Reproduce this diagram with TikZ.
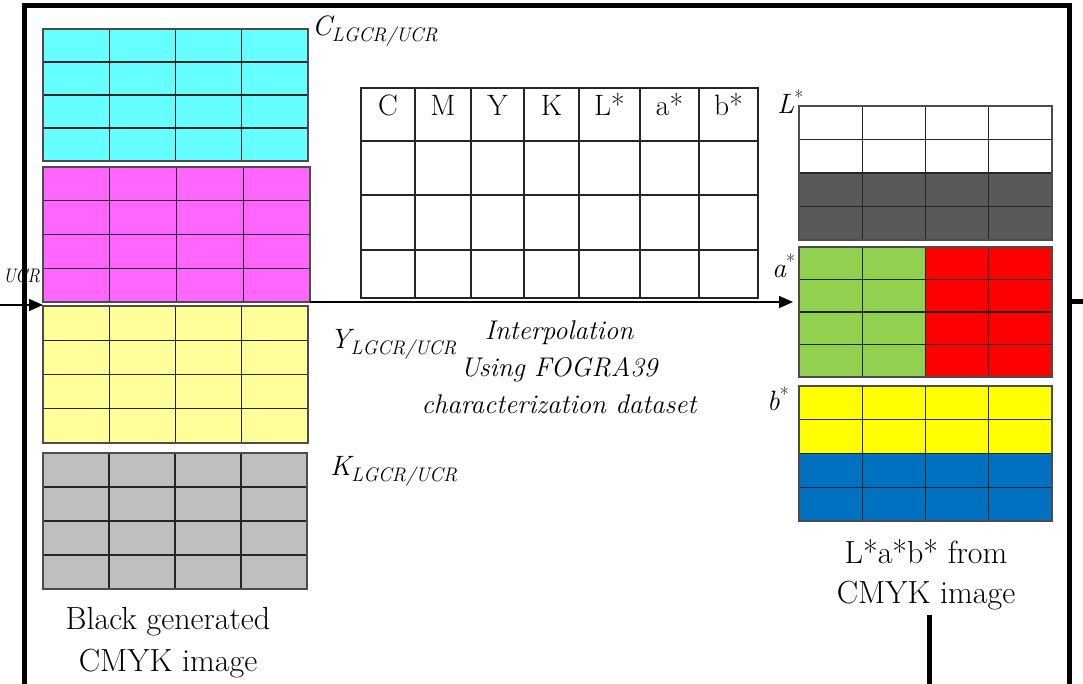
\documentclass[tikz,border=0pt]{standalone}
\usepackage{fontspec}
\usetikzlibrary{arrows.meta,fit}

\definecolor{cyanfill}{HTML}{66FFFF}
\definecolor{magfill}{HTML}{FF66FF}
\definecolor{yelfill}{HTML}{FFFF99}
\definecolor{grayfill}{HTML}{BFBFBF}
\definecolor{darkL}{HTML}{595959}
\definecolor{greenA}{HTML}{92D050}
\definecolor{redA}{HTML}{FF0000}
\definecolor{yelB}{HTML}{FFFF00}
\definecolor{blueB}{HTML}{0070C0}

% italic symbol with a lowered subscript / raised star
\newcommand\subsym[2]{{\itshape #1}\raisebox{-6.5pt}{\fontsize{19.6}{22}\selectfont\itshape #2}}
\newcommand\starsym[1]{{\itshape #1}\raisebox{9pt}{\fontsize{19.6}{22}\selectfont *}}

% 4x4 cell grid: #1 name, (#2,#3) top-left, (#4,#5) bottom-right
\newcommand\cellgrid[5]{%
  \foreach \k in {1,2,3}{
    \draw[gridline] ({#2+\k*(#4-#2)/4},#3) -- ({#2+\k*(#4-#2)/4},#5);
    \draw[gridline] (#2,{#3+\k*(#5-#3)/4}) -- (#4,{#3+\k*(#5-#3)/4});
  }
  \node[gridbox, fit={(#2,#3) (#4,#5)}] (#1) {};
}

\begin{document}
\begin{tikzpicture}[x=1pt,y=-1pt,
  frame/.style={line width=5pt},
  gridline/.style={line width=1.4pt, draw=black!85},
  gridbox/.style={draw=black!70, line width=1.4pt, inner sep=0pt, outer sep=0pt},
  tableline/.style={line width=1.4pt, draw=black!85},
  flow/.style={line width=1.3pt, -{Triangle[length=14pt,width=12pt]}},
  lbl/.style={font=\fontsize{28}{34}\selectfont, inner sep=0pt},
  hdr/.style={font=\fontsize{29.5}{34}\selectfont, inner sep=0pt},
  caption/.style={font=\fontsize{32}{42}\selectfont, align=center, inner sep=0pt},
  note/.style={font=\fontsize{27}{37}\selectfont\itshape, align=center, inner sep=0pt}]
\useasboundingbox (0,0) rectangle (1083,683);

% outer frame and its stubs
\draw[frame] (24.5,690) |- (1069,5) -- (1069,690);
\draw[frame] (1069,301) -- (1090,301);
\draw[frame] (929,615) -- (929,690);

% black generated CMYK planes
\fill[cyanfill] (43,29) rectangle (308,161);
\cellgrid{cgrid}{43}{29}{308}{161}
\fill[magfill] (43,167) rectangle (310,302);
\cellgrid{mgrid}{43}{167}{310}{302}
\fill[yelfill] (43,306) rectangle (308,443);
\cellgrid{ygrid}{43}{306}{308}{443}
\fill[grayfill] (43,453) rectangle (307,589);
\cellgrid{kgrid}{43}{453}{307}{589}

\node[lbl, anchor=base west] (clab) at (312,35) {\subsym{C}{LGCR/UCR}};
\node[lbl, anchor=base west] (ylab) at (330,348) {\subsym{Y}{LGCR/UCR}};
\node[lbl, anchor=base west] (klab) at (330,475) {\subsym{K}{LGCR/UCR}};
\node[lbl, anchor=base east] (inlab) at (40,282)
  {\scalebox{0.88}[1]{\fontsize{19.6}{22}\selectfont\itshape UCR}};

\node[caption, anchor=north] (bcap) at (168,607) {Black generated\\CMYK image};

% characterization table
\foreach \x in {415,471,524,579,640,699}
  \draw[tableline] (\x,88) -- (\x,298);
\foreach \y in {141,195,250}
  \draw[tableline] (361,\y) -- (758,\y);
\node[gridbox, draw=black!85, fit={(361,88) (758,298)}] (tbl) {};
\foreach \x/\t [count=\n] in {388/C, 443/M, 497.5/Y, 551.5/K, 609.5/L*, 669.5/a*, 728.5/b*}
  \node[hdr, anchor=base] (hd\n) at (\x,115) {\t};

\node[note, anchor=north] (interp) at (559,321)
  {Interpolation\\Using FOGRA39\\characterization dataset};

% L*a*b* planes
\fill[white] (799,106) rectangle (1052,173);
\fill[darkL] (799,173) rectangle (1052,240);
\cellgrid{lgrid}{799}{106}{1052}{240}
\fill[greenA] (799,247) rectangle (925.5,377);
\fill[redA] (925.5,247) rectangle (1052,377);
\cellgrid{agrid}{799}{247}{1052}{377}
\fill[yelB] (799,386) rectangle (1052,453.5);
\fill[blueB] (799,453.5) rectangle (1052,521);
\cellgrid{bgrid}{799}{386}{1052}{521}

\node[lbl, anchor=base west] (llab) at (777,113) {\starsym{L}};
\node[lbl, anchor=base west] (alab) at (772,277) {\starsym{a}};
\node[lbl, anchor=base west] (blab) at (767,410) {\starsym{b}};

\node[caption, anchor=north, font=\fontsize{32}{40}\selectfont] (rcap) at (926,539) {L*a*b* from\\CMYK image};

% connectors
\coordinate (entry) at (0,305);
\draw[flow] (entry) -- (entry -| mgrid.west);
\draw[flow, shorten >=6pt] (mgrid.south east) -- (mgrid.south east -| agrid.west);
\end{tikzpicture}
\end{document}
